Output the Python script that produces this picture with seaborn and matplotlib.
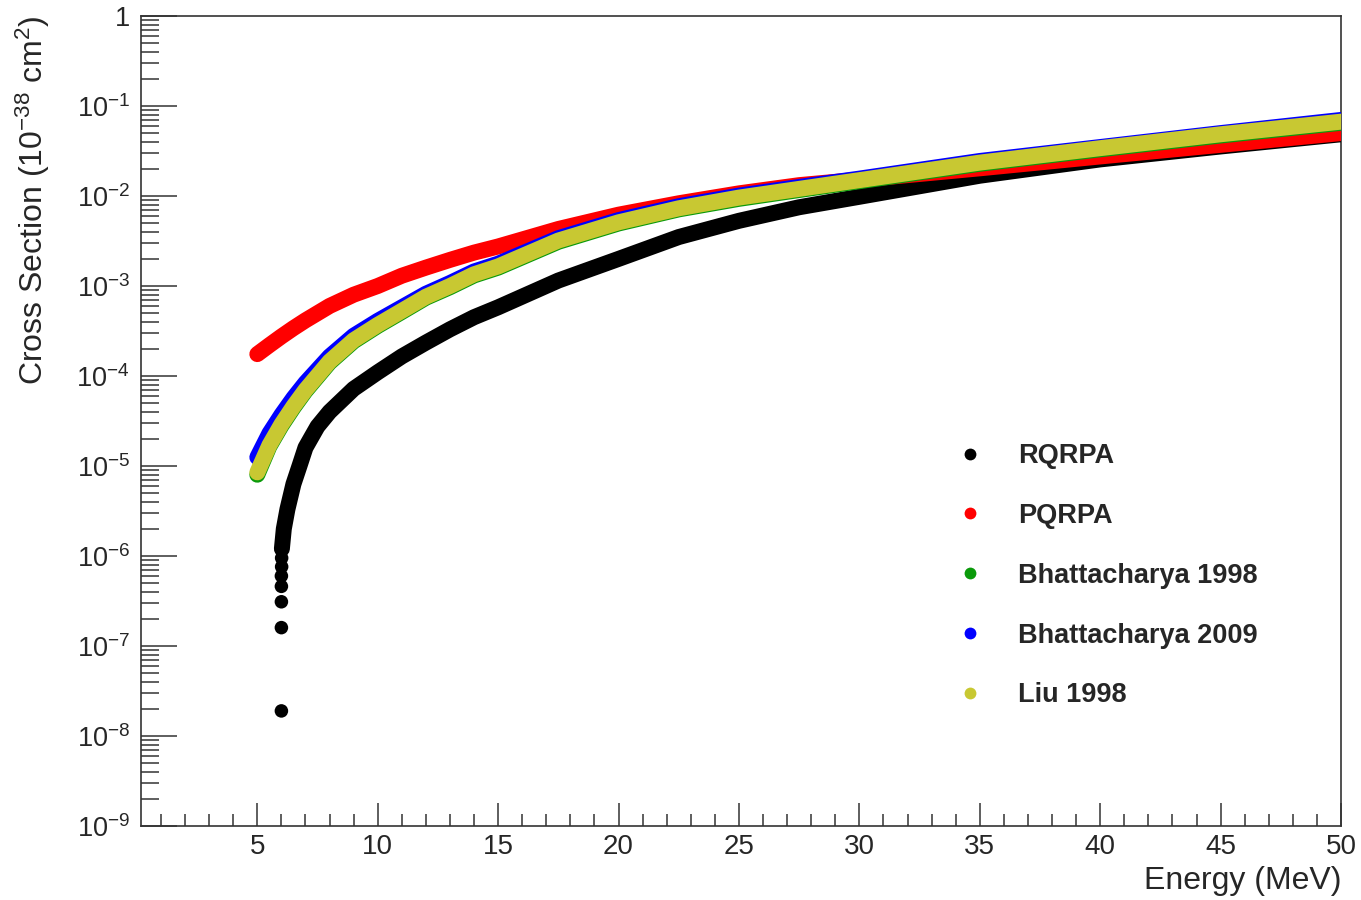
import numpy as np
import pandas as pd
import matplotlib
matplotlib.use("Agg")
import matplotlib.pyplot as plt
import seaborn as sns
from matplotlib.ticker import MultipleLocator, FixedLocator, FuncFormatter, NullFormatter
from matplotlib.lines import Line2D

# ---------------- data ----------------
energy = [5, 5.5, 6, 6.5, 7, 8, 9, 10, 11, 12, 13, 14, 15, 17.5, 20, 22.5,
          25, 27.5, 30, 35, 40, 45, 50]

pqrpa = [1.75e-4, 2.2e-4, 2.75e-4, 3.4e-4, 4.15e-4, 6.0e-4, 8.0e-4, 1.0e-3,
         1.3e-3, 1.6e-3, 1.95e-3, 2.35e-3, 2.75e-3, 4.3e-3, 6.2e-3, 8.3e-3,
         1.07e-2, 1.32e-2, 1.52e-2, 2.03e-2, 2.75e-2, 3.7e-2, 5.0e-2]

bhatt1998 = [8.0e-6, 1.65e-5, 2.8e-5, 4.45e-5, 6.8e-5, 1.41e-4, 2.43e-4, 3.6e-4,
             5.15e-4, 7.4e-4, 9.7e-4, 1.31e-3, 1.6e-3, 3.1e-3, 4.95e-3, 7.1e-3,
             9.3e-3, 1.165e-2, 1.46e-2, 2.28e-2, 3.3e-2, 4.7e-2, 6.5e-2]

bhatt2009 = [1.25e-5, 2.3e-5, 3.7e-5, 5.7e-5, 8.4e-5, 1.65e-4, 2.8e-4, 4.1e-4,
             5.8e-4, 8.2e-4, 1.08e-3, 1.45e-3, 1.77e-3, 3.4e-3, 5.4e-3, 7.7e-3,
             1.01e-2, 1.26e-2, 1.56e-2, 2.45e-2, 3.5e-2, 5.0e-2, 7.0e-2]

liu1998 = [8.5e-6, 1.7e-5, 2.9e-5, 4.6e-5, 7.0e-5, 1.45e-4, 2.5e-4, 3.7e-4,
           5.3e-4, 7.6e-4, 1.0e-3, 1.35e-3, 1.65e-3, 3.2e-3, 5.1e-3, 7.3e-3,
           9.6e-3, 1.2e-2, 1.5e-2, 2.35e-2, 3.4e-2, 4.85e-2, 6.7e-2]

rqrpa_energy = [6.02, 6.1, 6.25, 6.5, 6.75, 7, 7.25, 7.5, 8, 9, 10, 11, 12, 13,
                14, 15, 17.5, 20, 22.5, 25, 27.5, 30, 35, 40, 45, 50]
rqrpa = [1.2e-6, 2.0e-6, 3.3e-6, 6.3e-6, 1.0e-5, 1.6e-5, 2.1e-5, 2.75e-5,
         4.0e-5, 7.2e-5, 1.1e-4, 1.65e-4, 2.35e-4, 3.3e-4, 4.5e-4, 5.8e-4,
         1.15e-3, 2.0e-3, 3.5e-3, 5.3e-3, 7.5e-3, 9.8e-3, 1.68e-2, 2.55e-2,
         3.55e-2, 4.85e-2]

rqrpa_threshold_energy = [6.0, 6.0, 6.0, 6.0, 6.0, 6.01, 6.01]
rqrpa_threshold = [1.9e-8, 1.6e-7, 3.1e-7, 4.6e-7, 6.0e-7, 7.6e-7, 9.5e-7]

labels = ["RQRPA", "PQRPA", "Bhattacharya 1998", "Bhattacharya 2009", "Liu 1998"]
colors = ["#000000", "#ff0000", "#0a9a0a", "#0000ff", "#c8c832"]

# ---------------- style ----------------
sns.set_style("white")
plt.rcParams["font.family"] = ["Liberation Sans", "DejaVu Sans"]
plt.rcParams["mathtext.fontset"] = "custom"
plt.rcParams["mathtext.rm"] = "Liberation Sans"
plt.rcParams["mathtext.it"] = "Liberation Sans:italic"
plt.rcParams["mathtext.bf"] = "Liberation Sans:bold"

fig = plt.figure(figsize=(13.61, 9.0), dpi=100)
ax = fig.add_axes([141 / 1361, 1 - 826 / 900, (1341 - 141) / 1361, (826 - 16) / 900])
ax.set_facecolor("white")

LW = 11.5

# RQRPA
sns.scatterplot(x=rqrpa_threshold_energy, y=rqrpa_threshold, color=colors[0],
                s=95, edgecolor="none", ax=ax, zorder=3)
sns.lineplot(x=rqrpa_energy, y=rqrpa, color=colors[0], linewidth=LW,
             sort=False, estimator=None, ax=ax, zorder=3,
             solid_capstyle="round", solid_joinstyle="round")
# others
for vals, c, z in [(pqrpa, colors[1], 4), (bhatt1998, colors[2], 5),
                   (bhatt2009, colors[3], 6), (liu1998, colors[4], 7)]:
    sns.lineplot(x=energy, y=vals, color=c, linewidth=LW, sort=False,
                 estimator=None, ax=ax, zorder=z,
                 solid_capstyle="round", solid_joinstyle="round")

ax.set_yscale("log")
ax.set_xlim(0.17, 50)
ax.set_ylim(1e-9, 1)

# ticks
ax.xaxis.set_major_locator(MultipleLocator(5))
ax.xaxis.set_minor_locator(MultipleLocator(1))
major_y = [10.0 ** e for e in range(-9, 1)]
minor_y = [m * 10.0 ** e for e in range(-9, 0) for m in range(2, 10)]
ax.yaxis.set_major_locator(FixedLocator(major_y))
ax.yaxis.set_minor_locator(FixedLocator(minor_y))
ax.yaxis.set_minor_formatter(NullFormatter())


def yfmt(v, pos):
    e = int(round(np.log10(v)))
    if e == 0:
        return "1"
    return r"$10^{%d}$" % e


ax.yaxis.set_major_formatter(FuncFormatter(yfmt))

tick_col = "#333333"
ax.tick_params(axis="x", which="major", direction="in", length=16.5, width=1.1,
               color=tick_col, labelsize=20, pad=6, top=False, bottom=True)
ax.tick_params(axis="x", which="minor", direction="in", length=8.6, width=1.1,
               color=tick_col, top=False, bottom=True)
ax.tick_params(axis="y", which="major", direction="in", length=26, width=1.1,
               color=tick_col, labelsize=19.5, pad=8, left=True, right=False)
ax.tick_params(axis="y", which="minor", direction="in", length=13, width=1.1,
               color=tick_col, left=True, right=False)

for sp in ax.spines.values():
    sp.set_visible(True)
    sp.set_color(tick_col)
    sp.set_linewidth(1.2)

ax.set_ylabel(r"Cross Section (10$^{-38}$ cm$^{2}$)", fontsize=23, loc="top")
ax.yaxis.set_label_coords(-0.074, 1.0)
ax.set_xlabel("Energy (MeV)", fontsize=23, loc="right")
ax.xaxis.set_label_coords(1.0, -0.049)

handles = [Line2D([0], [0], marker="o", linestyle="none", color=c,
                  markersize=8.5, markeredgewidth=0) for c in colors]
leg = ax.legend(handles, labels, loc="upper left", frameon=False,
                bbox_to_anchor=(956.5 / 1361, 1 - 443 / 900),
                bbox_transform=fig.transFigure, borderpad=0, borderaxespad=0,
                handlelength=1.0, handletextpad=1.28, labelspacing=1.25,
                prop={"weight": "bold", "size": 19.5})

fig.savefig("out.png", dpi=100, facecolor="white")
